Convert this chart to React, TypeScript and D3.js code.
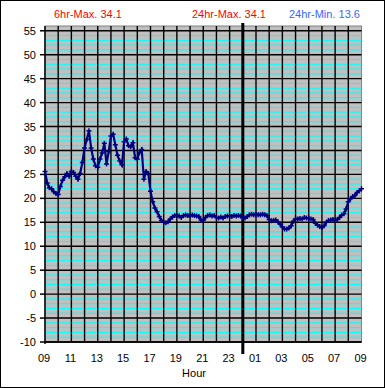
import React from "react";
import * as d3 from "d3";

// hour labels along the bottom, every 2 hours starting 09:00
const hourLabels = ["09", "11", "13", "15", "17", "19", "21", "23", "01", "03", "05", "07", "09"];
const yTicks = [-10, -5, 0, 5, 10, 15, 20, 25, 30, 35, 40, 45, 50, 55];

// temperature readings, one every 10 minutes from 09:00 to 09:00 next day
const temps = [
  25.6, 23.2, 22.2, 22.0, 21.4, 21.0, // 09
  20.8, 22.5, 23.8, 24.5, 25.2, 24.6, // 10
  25.6, 25.4, 24.6, 24.0, 25.2, 27.5, // 11
  30.5, 32.3, 34.1, 30.5, 28.2, 26.8, // 12
  26.5, 28.2, 29.5, 31.5, 27.2, 29.8, // 13
  33.0, 33.4, 31.2, 29.0, 27.8, 27.0, // 14
  31.8, 32.4, 31.0, 30.8, 31.6, 28.5, // 15
  28.2, 29.6, 30.2, 24.0, 25.6, 25.2, // 16
  21.5, 19.3, 18.0, 17.2, 16.2, 15.4, // 17
  15.0, 14.9, 15.1, 15.7, 16.1, 16.4, // 18
  16.4, 16.3, 16.0, 16.4, 16.5, 16.4, // 19
  16.4, 16.5, 16.4, 16.3, 16.2, 15.5, // 20
  15.4, 16.0, 16.4, 16.5, 16.3, 16.4, // 21
  16.0, 15.9, 16.1, 15.9, 16.2, 16.3, // 22
  16.3, 16.2, 16.4, 16.3, 16.4, 16.3, // 23
  16.0, 15.9, 16.2, 16.6, 16.7, 16.6, // 00
  16.7, 16.6, 16.6, 16.7, 16.6, 16.4, // 01
  15.6, 15.3, 15.4, 15.5, 15.1, 14.6, // 02
  14.0, 13.6, 13.6, 13.8, 14.3, 15.2, // 03
  15.7, 15.7, 15.8, 15.7, 16.0, 15.9, // 04
  15.8, 15.7, 15.6, 14.8, 14.4, 14.1, // 05
  13.9, 14.3, 15.0, 15.4, 15.5, 15.6, // 06
  15.5, 15.6, 16.0, 16.5, 16.8, 17.8, // 07
  19.3, 19.9, 20.4, 20.6, 21.2, 21.6, // 08
  22.0,
];

const legend = [
  { text: "6hr-Max. 34.1", x: 54, color: "#ff0000" },
  { text: "24hr-Max. 34.1", x: 192, color: "#ff0000" },
  { text: "24hr-Min. 13.6", x: 289, color: "#3366ff" },
];

const W = 385;
const H = 388;
const left = 45, right = 361.5, top = 26, bottom = 342;

export default function App() {
  const x = d3.scaleLinear().domain([0, 24]).range([left, right]);
  const y = d3.scaleLinear().domain([-10, 56]).range([bottom, top]);

  const pts = temps.map((v, i) => [i / 6, v] as [number, number]);
  const line = d3.line<[number, number]>().x(d => x(d[0])).y(d => y(d[1]));

  const minor = d3.range(-9, 56).filter(v => v % 5 !== 0);

  return (
    <svg width={W} height={H} style={{ position: "fixed", left: 0, top: 0, background: "#fff" }}
      fontFamily="'Liberation Sans', Arial, sans-serif" fontSize={11}>
      <rect x={0.5} y={0.5} width={W - 1} height={H - 1} fill="#fff" stroke="#000" />

      {legend.map(l => (
        <text key={l.text} x={l.x} y={18} fill={l.color}>{l.text}</text>
      ))}

      <rect x={left} y={top} width={right - left} height={bottom - top} fill="#c0c0c0" stroke="#808080" />

      {minor.map(v => (
        <line key={"m" + v} x1={left} x2={right} y1={y(v)} y2={y(v)} stroke="#00ffff" strokeWidth={1} />
      ))}
      {yTicks.map(v => (
        <line key={"h" + v} x1={left} x2={right} y1={y(v)} y2={y(v)} stroke="#000" strokeWidth={1.4} />
      ))}
      {d3.range(1, 24).map(h => (
        <line key={"v" + h} x1={x(h)} x2={x(h)} y1={top} y2={bottom} stroke="#000" strokeWidth={1.4} />
      ))}

      {/* axes */}
      <line x1={left} x2={left} y1={top} y2={bottom + 2} stroke="#000" strokeWidth={1.5} />
      <line x1={left} x2={right} y1={bottom} y2={bottom} stroke="#000" strokeWidth={1.5} />
      {yTicks.map(v => (
        <g key={"t" + v}>
          <line x1={left - 5} x2={left} y1={y(v)} y2={y(v)} stroke="#000" strokeWidth={1.5} />
          <text x={36} y={y(v) + 4} textAnchor="end" fill="#000">{v}</text>
        </g>
      ))}
      {hourLabels.map((t, i) => (
        <text key={"x" + i} x={x(i * 2) - 1} y={362} textAnchor="middle" fill="#000">{t}</text>
      ))}
      <text x={194} y={377} textAnchor="middle" fill="#000">Hour</text>

      {/* midnight marker */}
      <line x1={x(15)} x2={x(15)} y1={23} y2={354} stroke="#000" strokeWidth={3} />

      <path d={line(pts) ?? ""} fill="none" stroke="#000080" strokeWidth={2.2} />
      {pts.map((d, i) => (
        <path key={"p" + i} d={`M${x(d[0]) - 2.5},${y(d[1])}h5M${x(d[0])},${y(d[1]) - 2.5}v5`}
          stroke="#000080" strokeWidth={1.5} fill="none" />
      ))}
    </svg>
  );
}
